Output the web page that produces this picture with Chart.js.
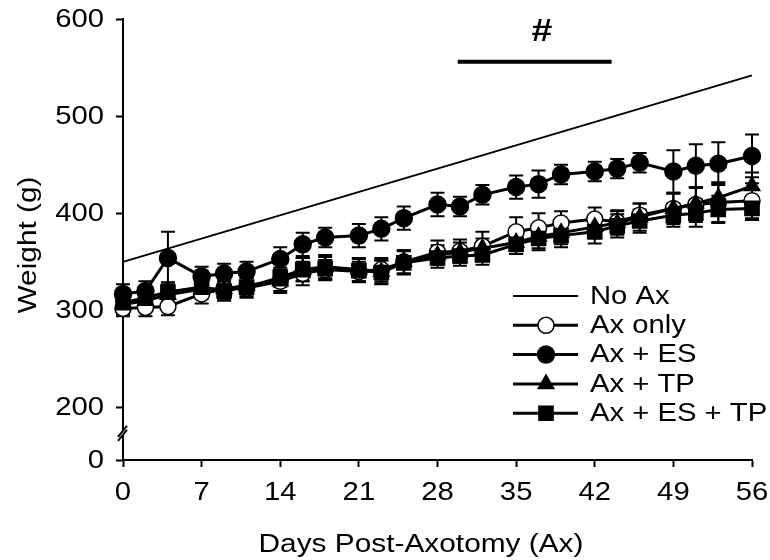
<!DOCTYPE html>
<html>
	<head>
		<title>Weight after axotomy</title>
		<meta charset="UTF-8">
		<script src="https://cdn.jsdelivr.net/npm/chart.js@4"></script>
		<style>
			body { margin: 0; background: #fff; }
			#wrap { width: 770px; height: 560px; }
		</style>
	</head>
	<body>
		<div id="wrap"><canvas id="myChart" width="770" height="560"></canvas></div>
		<script>
			// days post-axotomy
			const days = [0, 2, 4, 7, 9, 11, 14, 16, 18, 21, 23, 25, 28, 30, 32, 35, 37, 39, 42, 44, 46, 49, 51, 53, 56];
			const xTicks = [0, 7, 14, 21, 28, 35, 42, 49, 56];
			const yTicks = [200, 300, 400, 500, 600];

			// No Ax reference line (end points)
			const noAxDays = [0, 56];
			const noAx = [350, 542];

			const axOnly = [302, 303, 304, 317, 322, 323, 330, 338, 342, 340, 342, 350, 360, 361, 366, 381, 385, 390, 394, 391, 398, 405, 409, 411, 413];
			const axOnlySem = [8, 9, 9, 10, 10, 10, 12, 12, 10, 10, 12, 12, 12, 12, 15, 15, 15, 12, 12, 12, 12, 15, 18, 20, 18];

			const axES = [317, 320, 354, 335, 338, 340, 353, 368, 375, 377, 384, 395, 409, 407, 419, 427, 430, 440, 443, 446, 452, 443, 449, 451, 459];
			const axESSem = [10, 10, 27, 10, 10, 10, 12, 12, 10, 12, 12, 12, 12, 10, 10, 12, 14, 10, 10, 10, 10, 22, 22, 22, 22];

			const axTP = [306, 310, 316, 322, 322, 326, 330, 342, 345, 342, 340, 350, 357, 360, 364, 370, 376, 380, 386, 390, 396, 405, 410, 416, 428];
			const axTPSem = [10, 10, 10, 10, 10, 10, 10, 12, 12, 12, 12, 12, 10, 10, 10, 12, 12, 12, 12, 12, 14, 16, 16, 16, 14];

			const axESTP = [308, 313, 319, 324, 320, 324, 334, 342, 343, 341, 339, 349, 354, 356, 357, 368, 374, 377, 381, 387, 392, 398, 400, 404, 405];
			const axESTPSem = [10, 10, 10, 10, 10, 10, 10, 12, 12, 12, 12, 12, 10, 10, 10, 10, 12, 12, 12, 12, 12, 12, 14, 14, 12];

			// significance bar (#) from day ~30 to 43.5
			const sigRange = [29.8, 43.5];
			const sigLevel = 556;

			// bottom of broken axis, labelled 0
			const yBreakMin = 146;

			const FONT = "'Liberation Sans', Arial, sans-serif";
			const SX = 1.17; // text in the figure is a bit wider than plain Arial

			function pts(xs, ys) {
				return xs.map((d, i) => ({x: d, y: ys[i]}));
			}

			function wideText(ctx, text, x, y, align, rot) {
				ctx.save();
				ctx.translate(x, y);
				if (rot) ctx.rotate(rot);
				ctx.scale(SX, 1);
				ctx.textAlign = align;
				ctx.fillText(text, 0, 0);
				ctx.restore();
			}

			const semByLabel = {
				'Ax only': axOnlySem,
				'Ax + ES': axESSem,
				'Ax + TP': axTPSem,
				'Ax + ES + TP': axESTPSem
			};

			const errorBars = {
				id: 'errorBars',
				beforeDatasetsDraw(chart) {
					const ctx = chart.ctx;
					const xs = chart.scales.x, ys = chart.scales.y;
					ctx.save();
					ctx.strokeStyle = '#000';
					ctx.lineWidth = 2;
					chart.data.datasets.forEach(ds => {
						const sem = semByLabel[ds.label];
						if (!sem) return;
						ds.data.forEach((p, i) => {
							const px = xs.getPixelForValue(p.x);
							const top = ys.getPixelForValue(p.y + sem[i]);
							const bot = ys.getPixelForValue(p.y - sem[i]);
							ctx.beginPath();
							ctx.moveTo(px, top); ctx.lineTo(px, bot);
							ctx.moveTo(px - 7, top); ctx.lineTo(px + 7, top);
							ctx.moveTo(px - 7, bot); ctx.lineTo(px + 7, bot);
							ctx.stroke();
						});
					});
					ctx.restore();
				}
			};

			const extras = {
				id: 'extras',
				afterDraw(chart) {
					const ctx = chart.ctx;
					const xs = chart.scales.x, ys = chart.scales.y;
					ctx.save();
					ctx.fillStyle = '#000';
					ctx.textBaseline = 'middle';

					// tick labels and axis titles
					ctx.font = '25px ' + FONT;
					xs.ticks.forEach(t => wideText(ctx, String(t.value), xs.getPixelForValue(t.value), 493, 'center'));
					ys.ticks.forEach(t => wideText(ctx, t.value === yBreakMin ? '0' : String(t.value), 104, ys.getPixelForValue(t.value) + 1, 'right'));
					ctx.font = '25.5px ' + FONT;
					wideText(ctx, 'Days Post-Axotomy (Ax)', 421, 545, 'center');
					wideText(ctx, 'Weight (g)', 29, 245, 'center', -Math.PI / 2);

					// significance bar
					ctx.strokeStyle = '#000';
					ctx.lineWidth = 4;
					const sy = ys.getPixelForValue(sigLevel);
					ctx.beginPath();
					ctx.moveTo(xs.getPixelForValue(sigRange[0]), sy);
					ctx.lineTo(xs.getPixelForValue(sigRange[1]), sy);
					ctx.stroke();
					ctx.font = 'bold 32px ' + FONT;
					wideText(ctx, '#', xs.getPixelForValue(37.3), ys.getPixelForValue(586), 'center');

					// axis break
					const bx = xs.left, by = ys.getPixelForValue(175);
					ctx.fillStyle = '#fff';
					ctx.beginPath();
					ctx.moveTo(bx - 5, by + 5); ctx.lineTo(bx + 4, by - 6);
					ctx.lineTo(bx + 4, by - 2); ctx.lineTo(bx - 5, by + 9);
					ctx.closePath();
					ctx.fill();
					ctx.strokeStyle = '#000';
					ctx.lineWidth = 2;
					ctx.beginPath();
					ctx.moveTo(bx - 5, by + 5); ctx.lineTo(bx + 4, by - 6);
					ctx.moveTo(bx - 5, by + 9); ctx.lineTo(bx + 4, by - 2);
					ctx.stroke();

					// legend
					ctx.font = '25px ' + FONT;
					chart.data.datasets.forEach((ds, i) => {
						const y = 296 + i * 29.3;
						ctx.strokeStyle = '#000';
						ctx.lineWidth = ds.borderWidth;
						ctx.beginPath();
						ctx.moveTo(513, y); ctx.lineTo(578, y);
						ctx.stroke();
						if (ds.pointRadius > 0) {
							ctx.fillStyle = ds.pointBackgroundColor;
							ctx.strokeStyle = '#000';
							ctx.lineWidth = 1.5;
							Chart.helpers.drawPoint(ctx, {pointStyle: ds.pointStyle, radius: ds.pointRadius, rotation: 0, borderWidth: 1.5}, 546, y);
						}
						ctx.fillStyle = '#000';
						wideText(ctx, ds.label, 590, y + 1, 'left');
					});
					ctx.restore();
				}
			};

			const ctx = document.getElementById('myChart').getContext('2d');
			const chart = new Chart(ctx, {
				type: 'line',
				data: {
					datasets: [
						{label: 'No Ax', data: pts(noAxDays, noAx), borderColor: '#000', borderWidth: 2, pointRadius: 0, order: 5},
						{label: 'Ax only', data: pts(days, axOnly), borderColor: '#000', borderWidth: 3, pointStyle: 'circle', pointRadius: 8, pointBackgroundColor: '#fff', pointBorderColor: '#000', pointBorderWidth: 1.5, order: 4},
						{label: 'Ax + ES', data: pts(days, axES), borderColor: '#000', borderWidth: 3, pointStyle: 'circle', pointRadius: 8.5, pointBackgroundColor: '#000', pointBorderColor: '#000', pointBorderWidth: 1.5, order: 3},
						{label: 'Ax + TP', data: pts(days, axTP), borderColor: '#000', borderWidth: 3, pointStyle: 'triangle', pointRadius: 9, pointBackgroundColor: '#000', pointBorderColor: '#000', pointBorderWidth: 1.5, order: 2},
						{label: 'Ax + ES + TP', data: pts(days, axESTP), borderColor: '#000', borderWidth: 3, pointStyle: 'rect', pointRadius: 10, pointBackgroundColor: '#000', pointBorderColor: '#000', pointBorderWidth: 1.5, order: 1}
					]
				},
				options: {
					responsive: false,
					animation: false,
					clip: false,
					layout: {padding: {top: 19, right: 18, left: 0, bottom: 0}},
					plugins: {legend: {display: false}, tooltip: {enabled: false}},
					elements: {line: {tension: 0}},
					scales: {
						x: {
							type: 'linear',
							min: 0, max: 56,
							afterBuildTicks: s => { s.ticks = xTicks.map(v => ({value: v})); },
							afterFit: s => { s.height = 100; },
							grid: {drawOnChartArea: false, tickLength: 7, tickColor: '#000', tickWidth: 2},
							border: {color: '#000', width: 2},
							ticks: {display: false}
						},
						y: {
							type: 'linear',
							min: yBreakMin, max: 600,
							afterBuildTicks: s => { s.ticks = [yBreakMin].concat(yTicks).map(v => ({value: v})); },
							afterFit: s => { s.width = 123; },
							grid: {drawOnChartArea: false, tickLength: 7, tickColor: '#000', tickWidth: 2},
							border: {color: '#000', width: 2},
							ticks: {display: false}
						}
					}
				},
				plugins: [errorBars, extras]
			});
		</script>
	</body>
</html>
